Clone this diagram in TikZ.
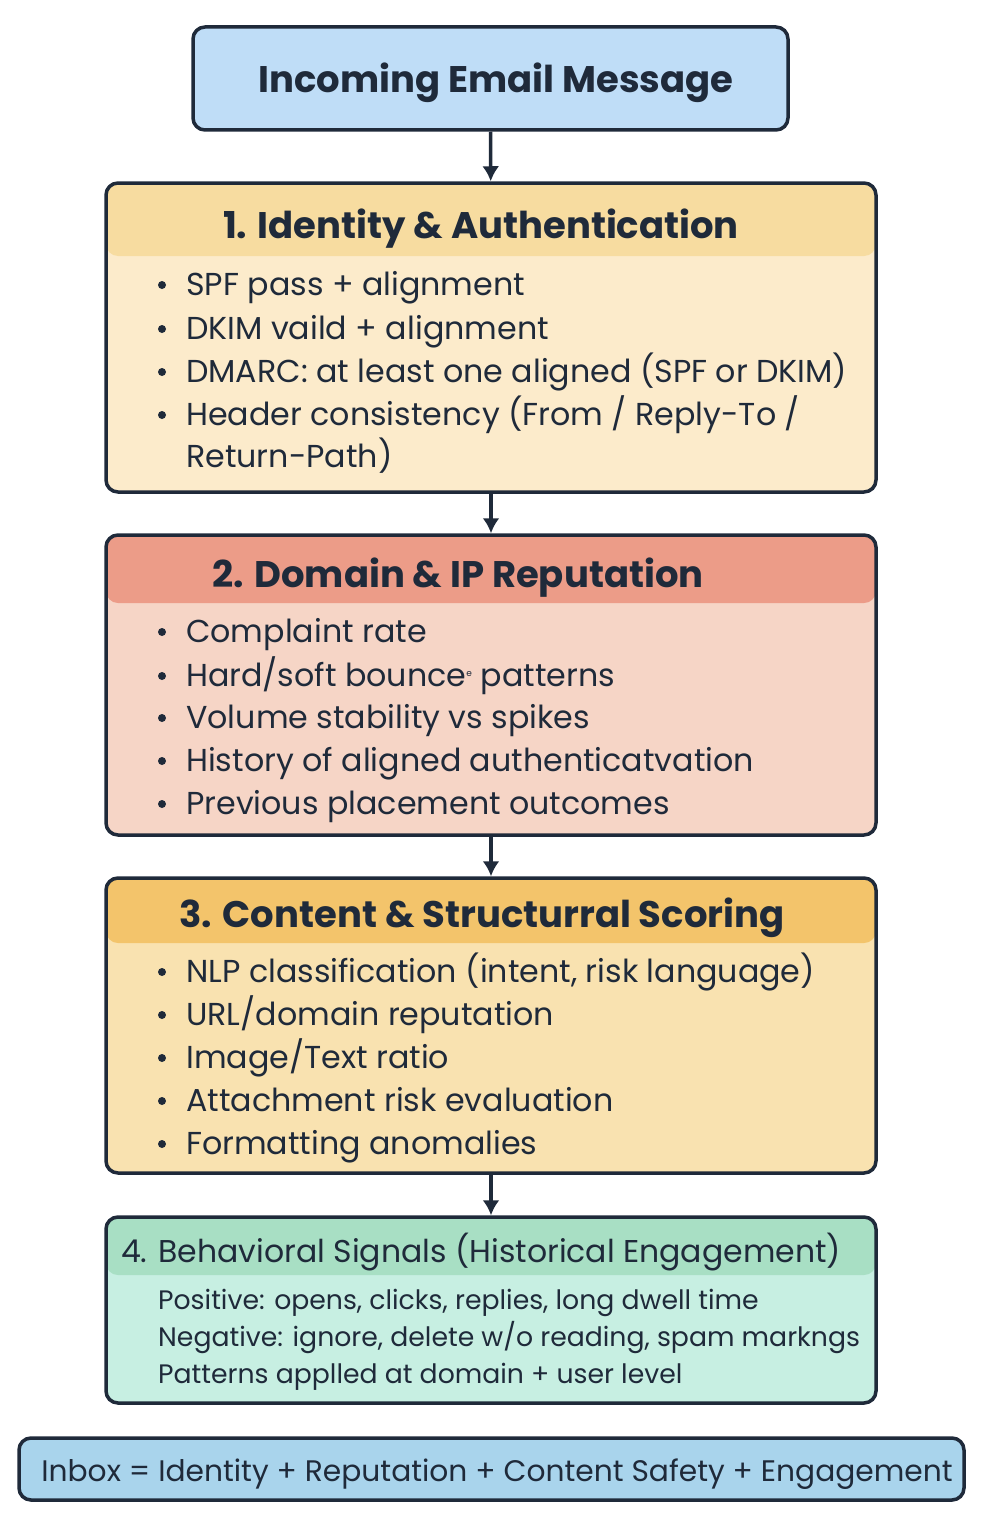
\documentclass[tikz,border=0pt]{standalone}
\usepackage{fontspec}
\setmainfont{Poppins}
\definecolor{ink}{HTML}{1F2A3A}
\definecolor{topc}{HTML}{BFDDF7}
\definecolor{h1}{HTML}{F7DCA0}\definecolor{b1}{HTML}{FCEBCB}
\definecolor{h2}{HTML}{EC9C88}\definecolor{b2}{HTML}{F6D5C6}
\definecolor{h3}{HTML}{F3C46B}\definecolor{b3}{HTML}{F9E2B0}
\definecolor{h4}{HTML}{A8DFC4}\definecolor{b4}{HTML}{C7EFE2}
\definecolor{botc}{HTML}{A9D4EC}
\usetikzlibrary{arrows.meta}
\begin{document}
\begin{tikzpicture}[x=1pt,y=-1pt,
  box/.style={draw=ink,line width=3.5pt,rounded corners=12pt,inner sep=0pt},
  hdr/.style 2 args={path picture={\fill[#1] (path picture bounding box.north west) rectangle ([yshift=-#2pt]path picture bounding box.north east);}},
  t/.style={anchor=base west,inner sep=0pt,text=ink,font=\fontsize{31.7}{33}\selectfont},
  ttl/.style={anchor=base,inner sep=0pt,text=ink,font=\fontsize{37}{40}\selectfont\bfseries},
  arr/.style={-{Latex[length=15pt,width=17pt]},line width=3.5pt,draw=ink}]
\useasboundingbox (0,0) rectangle (1000,1536);
\node[box,fill=topc,minimum width=595pt,minimum height=103pt] (top) at (490.5,78.5) {};
\node[ttl] at (496,93) {Incoming Email Message};
\node[box,fill=b1,hdr={h1}{73},minimum width=770pt,minimum height=309pt] (s1) at (491,337.5) {};
\node[box,fill=b2,hdr={h2}{68},minimum width=770pt,minimum height=300pt] (s2) at (491,685) {};
\node[box,fill=b3,hdr={h3}{65},minimum width=770pt,minimum height=295pt] (s3) at (491,1025.5) {};
\node[box,fill=b4,hdr={h4}{58},minimum width=770pt,minimum height=186pt] (s4) at (491,1310) {};
\node[box,fill=botc,minimum width=945pt,minimum height=62pt] (bot) at (491.5,1469) {};
\draw[arr] (top) -- (s1);
\draw[arr] (s1) -- (s2);
\draw[arr] (s2) -- (s3);
\draw[arr] (s3) -- (s4);
\node[ttl] at (481,238) {1. Identity \& Authentication};
\node[ttl] at (458,587) {2. Domain \& IP Reputation};
\node[ttl] at (482,927) {3. Content \& Structurral Scoring};
\node[anchor=base,inner sep=0pt,text=ink,font=\fontsize{31.5}{34}\selectfont] at (481,1262) {4. Behavioral Signals (Historical Engagement)};
\node[anchor=base,inner sep=0pt,text=ink,font=\fontsize{29.7}{32}\selectfont] at (497,1481) {Inbox = Identity + Reputation + Content Safety + Engagement};
\foreach \y/\s in {284/{SPF pass + alignment},328/{DKIM vaild + alignment},371/{DMARC: at least one aligned (SPF or DKIM)},414/{Header consistency (From / Reply-To /},456/{Return-Path)},631/{Complaint rate},675/{Hard/soft bounce\textsuperscript{\fontsize{9}{9}\selectfont e} patterns},717/{Volume stability vs spikes},760/{History of aligned authenticatvation},803/{Previous placement outcomes},971/{NLP classification (intent, risk language)},1014/{URL/domain reputation},1057/{Image/Text ratio},1100/{Attachment risk evaluation},1143/{Formatting anomalies}}
  {\node[t] at (186,\y+11) {\s};}
\foreach \y in {284,328,371,414,631,675,717,760,803,971,1014,1057,1100,1143}
  {\fill[ink] (162,\y+1) circle (4pt);}
\node[t,font=\fontsize{26.7}{30}\selectfont] at (158,1309) {Positive: opens, clicks, replies, long dwell time};
\node[t,font=\fontsize{26.7}{30}\selectfont] at (158,1346) {Negative: ignore, delete w/o reading, spam markngs};
\node[t,font=\fontsize{26.7}{30}\selectfont] at (158,1383) {Patterns applled at domain + user level};
\end{tikzpicture}
\end{document}
